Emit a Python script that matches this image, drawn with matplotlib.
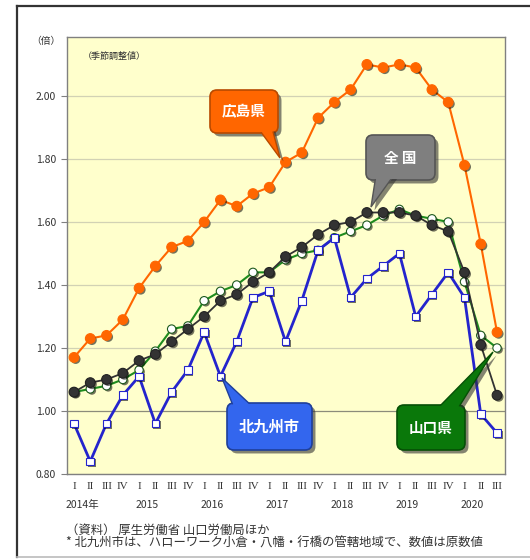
import matplotlib
matplotlib.use('Agg')
import matplotlib.pyplot as plt
import matplotlib.patheffects as pe
from matplotlib.patches import FancyBboxPatch, Polygon
from matplotlib.lines import Line2D
import numpy as np

plt.rcParams['font.family'] = ['Noto Sans CJK JP', 'DejaVu Sans']

# 2014 I .. 2020 III (quarterly)
quarters = ['I', 'II', 'III', 'IV'] * 6 + ['I', 'II', 'III']
years = ['2014年', '2015', '2016', '2017', '2018', '2019', '2020']

hiroshima = [1.17, 1.23, 1.24, 1.29, 1.39, 1.46, 1.52, 1.54, 1.60, 1.67, 1.65, 1.69, 1.71,
             1.79, 1.82, 1.93, 1.98, 2.02, 2.10, 2.09, 2.10, 2.09, 2.02, 1.98, 1.78, 1.53, 1.25]
zenkoku = [1.06, 1.09, 1.10, 1.12, 1.16, 1.18, 1.22, 1.26, 1.30, 1.35, 1.37, 1.41, 1.44,
           1.49, 1.52, 1.56, 1.59, 1.60, 1.63, 1.63, 1.63, 1.62, 1.59, 1.57, 1.44, 1.21, 1.05]
yamaguchi = [1.06, 1.07, 1.08, 1.10, 1.13, 1.19, 1.26, 1.27, 1.35, 1.38, 1.40, 1.44, 1.44,
             1.48, 1.50, 1.51, 1.55, 1.57, 1.59, 1.62, 1.64, 1.62, 1.61, 1.60, 1.41, 1.24, 1.20]
kitakyushu = [0.96, 0.84, 0.96, 1.05, 1.11, 0.96, 1.06, 1.13, 1.25, 1.11, 1.22, 1.36, 1.38,
              1.22, 1.35, 1.51, 1.55, 1.36, 1.42, 1.46, 1.50, 1.30, 1.37, 1.44, 1.36, 0.99, 0.93]

x = np.arange(len(quarters))
shadow = [pe.SimplePatchShadow(offset=(1.2, -1.2), shadow_rgbFace='black', alpha=0.55), pe.Normal()]

fig = plt.figure(figsize=(5.3, 5.6), dpi=100)
ax = fig.add_axes([67/530, 1-474/560, 438/530, 437/560])
ax.set_facecolor('#FFFFCC')

for yv in np.arange(0.8, 2.21, 0.2):
    c = '#8C8C7A' if abs(yv-1.0) < 1e-6 else '#D2D2B4'
    ax.axhline(yv, color=c, lw=0.9, zorder=1)

def series(vals, lc, lw, marker, ms, mfc, mec, z):
    ax.plot(x, vals, color=lc, lw=lw, zorder=z)
    ax.plot(x, vals, ls='none', marker=marker, ms=ms, mfc=mfc, mec=mec, mew=0.8,
            zorder=z+0.5, path_effects=shadow)

series(hiroshima, '#FF6600', 1.5, 'o', 7, '#FF6600', '#FF6600', 3)
series(yamaguchi, '#1E8C1E', 1.5, 'o', 6, 'white', '#1E5A1E', 4)
series(zenkoku, '#333333', 1.3, 'o', 7, '#333333', '#222222', 5)
series(kitakyushu, '#2424CC', 2.0, 's', 5.5, 'white', '#2424CC', 6)

ax.set_xlim(-0.43, 26.49)
ax.set_ylim(0.80, 2.187)
ax.set_yticks(np.arange(0.8, 2.01, 0.2))
ax.set_yticklabels(['%.2f' % v for v in np.arange(0.8, 2.01, 0.2)])
ax.set_xticks(x)
ax.set_xticklabels(quarters, family='Liberation Serif')
ax.tick_params(axis='y', length=4, color='#808080', labelsize=7.5, labelcolor='#333333', pad=4)
ax.tick_params(axis='x', length=0, labelsize=8, labelcolor='#333333', pad=6)
for s in ax.spines.values():
    s.set_color('#808080')
    s.set_linewidth(1)

tr = ax.get_xaxis_transform()
for k, yr in enumerate(years):
    ax.text(4*k + 0.5, -0.071, yr, transform=tr, ha='center', va='center',
            fontsize=7.5, color='#333333')

ax.text(0.035, 0.955, '（季節調整値）', transform=ax.transAxes, fontsize=6.5,
        color='#333333', ha='left', va='center')

# overlay in pixel coordinates for callouts and notes
ov = fig.add_axes([0, 0, 1, 1], zorder=10)
ov.set_xlim(0, 530)
ov.set_ylim(560, 0)
ov.axis('off')
ov.patch.set_alpha(0)

box_shadow = [pe.SimplePatchShadow(offset=(2.5, -2.5), shadow_rgbFace='#333333', alpha=0.6), pe.Normal()]

def callout(x0, x1, y0, y1, tail, text, fc, ec, fs=10.5):
    kw = dict(boxstyle='round,pad=0,rounding_size=7')
    ov.add_patch(FancyBboxPatch((x0, y0), x1-x0, y1-y0, fc=fc, ec=ec, lw=1.2,
                                path_effects=box_shadow, **kw))
    ov.add_patch(Polygon(tail, closed=True, fc=fc, ec=ec, lw=1.0, path_effects=box_shadow))
    ov.add_patch(FancyBboxPatch((x0+1, y0+1), x1-x0-2, y1-y0-2, fc=fc, ec='none', **kw))
    ov.text((x0+x1)/2, (y0+y1)/2, text, color='white', fontsize=fs, fontweight='bold',
            ha='center', va='center')

callout(210, 278, 90, 133, [(258, 128), (272, 128), (280, 158)], '広島県', '#FF6600', '#B84A00')
callout(366, 435, 135, 180, [(376, 175), (394, 175), (371, 207)], '全 国', '#7F7F7F', '#555555')
callout(227, 312, 403, 450, [(234, 408), (254, 408), (222, 378)], '北九州市', '#3366EE', '#1F3F99', 11)
callout(397, 465, 405, 450, [(436, 410), (457, 410), (493, 352)], '山口県', '#0A780A', '#064F06')

ov.text(46, 41, '（倍）', fontsize=7, color='#333333', ha='center', va='center')
ov.text(66, 530, '（資料） 厚生労働省 山口労働局ほか', fontsize=8.9, color='#333333',
        ha='left', va='center')
ov.text(66, 543, '* 北九州市は、ハローワーク小倉・八幡・行橋の管轄地域で、数値は原数値',
        fontsize=8.9, color='#333333', ha='left', va='center')

# outer frame
fig.add_artist(Line2D([17/530, 1], [1-6/560, 1-6/560], color='#333333', lw=1.6))
fig.add_artist(Line2D([17/530, 17/530], [1-6/560, 1-557/560], color='#333333', lw=1.6))
fig.add_artist(Line2D([17/530, 1], [1-557/560, 1-557/560], color='#BBBBBB', lw=1.2))

fig.savefig('out.png', dpi=100)
